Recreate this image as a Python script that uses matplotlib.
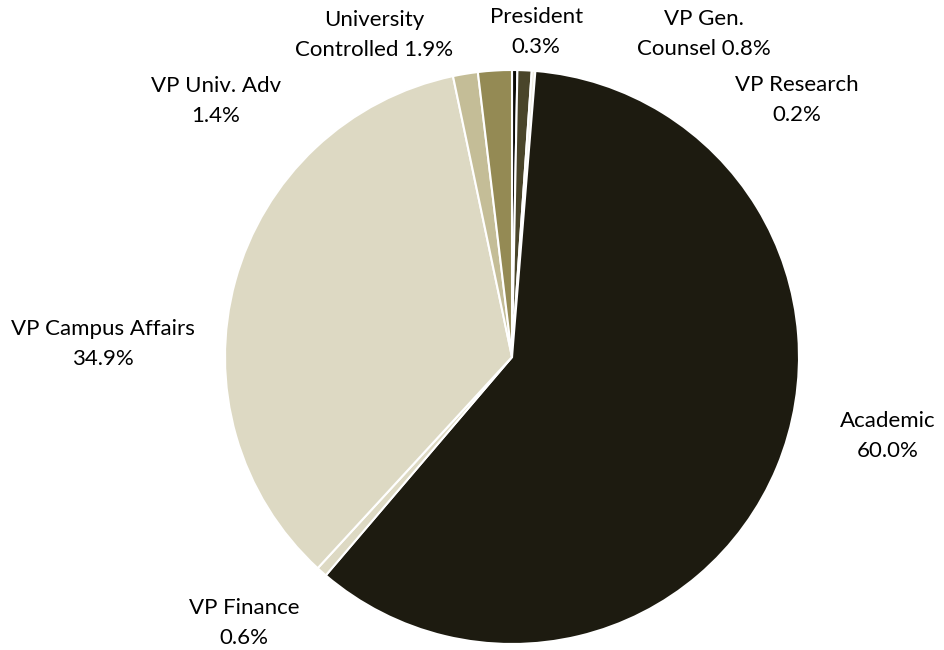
import matplotlib.pyplot as plt

# slices clockwise from 12 o'clock
labels = ["President", "VP Gen.\nCounsel", "VP Research", "Academic", "VP Finance",
          "VP Campus Affairs", "VP Univ. Adv", "University\nControlled"]
values = [0.3, 0.8, 0.2, 60.0, 0.6, 34.9, 1.4, 1.9]
colors = ["#0c0b07", "#4a452a", "#eeece1", "#1d1b10", "#ddd9c3",
          "#ddd9c3", "#c4bd97", "#948a54"]
# label text centres, in pie units (radius = 1)
label_pos = [(0.084, 1.132), (0.669, 1.125), (0.993, 0.895), (1.310, -0.275),
             (-0.934, -0.927), (-1.425, 0.045), (-1.031, 0.892), (-0.481, 1.122)]
# whether the percent goes on the same line as the last label line
same_line = [False, True, False, False, False, False, False, True]


def main():
    plt.rcParams['font.family'] = ['Lato', 'DejaVu Sans']
    fig = plt.figure(figsize=(9.44, 6.5), dpi=100, facecolor='white')
    ax = fig.add_axes([0, 0, 1, 1])

    ax.pie(values, colors=colors, startangle=90, counterclock=False,
           radius=1.0, wedgeprops=dict(edgecolor='white', linewidth=1.5))

    for lab, v, (x, y), same in zip(labels, values, label_pos, same_line):
        pct = "%.1f%%" % v
        txt = lab + (" " if same else "\n") + pct
        ax.text(x, y, txt, ha='center', va='center', fontsize=16,
                color='#000000', linespacing=1.6)

    # pie centre at (512, 357) px, radius 287 px
    sx = 944 / 287.0
    sy = 650 / 287.0
    x0 = -512 / 287.0
    y0 = -(650 - 357) / 287.0
    ax.set_xlim(x0, x0 + sx)
    ax.set_ylim(y0, y0 + sy)
    ax.set_aspect('auto')
    ax.axis('off')

    fig.savefig('out.png', dpi=100, facecolor='white')


if __name__ == '__main__':
    main()
